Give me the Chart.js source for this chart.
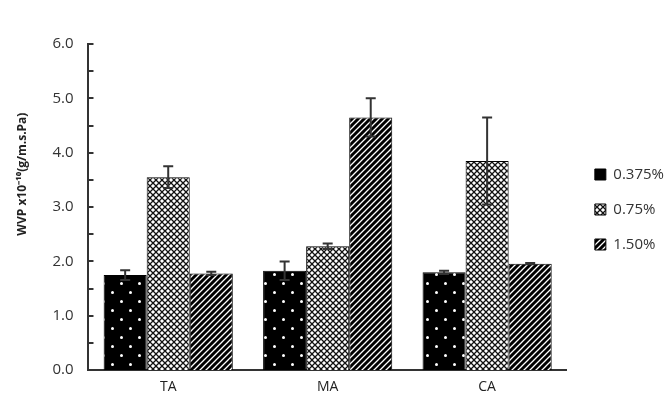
<!DOCTYPE html>
<html>
<head>
<meta charset="utf-8">
<script src="https://cdn.jsdelivr.net/npm/chart.js@4"></script>
<style>
  html, body { margin: 0; padding: 0; background: #fff; }
  #wrap { width: 670px; height: 396px; }
</style>
</head>
<body>
<div id="wrap"><canvas id="graph" width="670" height="396"></canvas></div>
<script>
var categories = ['TA', 'MA', 'CA']
var seriesNames = ['0.375%', '0.75%', '1.50%']
var wvp0375 = [1.75, 1.83, 1.80]
var wvp075 = [3.55, 2.28, 3.85]
var wvp150 = [1.78, 4.65, 1.96]
var err0375 = [0.09, 0.17, 0.03]
var err075 = [0.20, 0.05, 0.80]
var err150 = [0.03, 0.35, 0.01]

function makeTile(size, draw) {
    var c = document.createElement('canvas')
    c.width = size; c.height = size
    var g = c.getContext('2d')
    draw(g, size)
    return document.getElementById('graph').getContext('2d').createPattern(c, 'repeat')
}

// black with white dots
var dots = makeTile(18, function (g, s) {
    g.fillStyle = '#000'; g.fillRect(0, 0, s, s)
    g.fillStyle = '#fff'
    g.beginPath(); g.arc(4.5, 4.5, 1.5, 0, Math.PI * 2); g.fill()
    g.beginPath(); g.arc(13.5, 13.5, 1.5, 0, Math.PI * 2); g.fill()
})
// white lattice
var lattice = makeTile(6, function (g, s) {
    g.fillStyle = '#fff'; g.fillRect(0, 0, s, s)
    g.strokeStyle = '#111'; g.lineWidth = 1.3
    g.beginPath()
    g.moveTo(-1, -1); g.lineTo(s + 1, s + 1)
    g.moveTo(s + 1, -1); g.lineTo(-1, s + 1)
    g.stroke()
})
// black with white diagonal stripes
var stripes = makeTile(6, function (g, s) {
    g.fillStyle = '#000'; g.fillRect(0, 0, s, s)
    g.strokeStyle = '#fff'; g.lineWidth = 1.3
    g.beginPath()
    g.moveTo(0, s); g.lineTo(s, 0)
    g.moveTo(-s, s); g.lineTo(s, -s)
    g.moveTo(0, 2 * s); g.lineTo(2 * s, 0)
    g.stroke()
})

var errors = [err0375, err075, err150]

var errorBars = {
    id: 'errorBars',
    afterDatasetsDraw: function (chart) {
        var c = chart.ctx
        var y = chart.scales.y
        c.save()
        c.strokeStyle = '#333'
        c.lineWidth = 2
        chart.data.datasets.forEach(function (ds, i) {
            var meta = chart.getDatasetMeta(i)
            meta.data.forEach(function (bar, j) {
                var v = ds.data[j], e = errors[i][j]
                var top = y.getPixelForValue(v + e)
                var bot = y.getPixelForValue(v - e)
                c.beginPath()
                c.moveTo(bar.x, top); c.lineTo(bar.x, bot)
                c.moveTo(bar.x - 5, top); c.lineTo(bar.x + 5, top)
                c.moveTo(bar.x - 5, bot); c.lineTo(bar.x + 5, bot)
                c.stroke()
            })
        })
        c.restore()
    }
}

var innerTicks = {
    id: 'innerTicks',
    afterDraw: function (chart) {
        var c = chart.ctx
        var y = chart.scales.y
        var left = chart.chartArea.left
        c.save()
        c.strokeStyle = '#333'
        c.lineWidth = 2
        for (var v = 0; v <= 6; v += 0.5) {
            var p = Math.round(y.getPixelForValue(v))
            c.beginPath(); c.moveTo(left, p); c.lineTo(left + 5, p); c.stroke()
        }
        c.restore()
    }
}

// nudge legend up and right a bit, like the original
var legendShift = {
    id: 'legendShift',
    afterLayout: function (chart) {
        var l = chart.legend
        l.top -= 14; l.bottom -= 14
        l.left += 8; l.right += 8
    }
}

var myChart = new Chart(document.getElementById('graph').getContext('2d'), {
    type: 'bar',
    data: {
        labels: categories,
        datasets: [
            { label: seriesNames[0], data: wvp0375, backgroundColor: dots },
            { label: seriesNames[1], data: wvp075, backgroundColor: lattice },
            { label: seriesNames[2], data: wvp150, backgroundColor: stripes }
        ]
    },
    options: {
        responsive: false,
        animation: false,
        datasets: {
            bar: {
                borderColor: '#000',
                borderWidth: 1,
                categoryPercentage: 0.81,
                barPercentage: 1
            }
        },
        layout: {
            padding: { top: 44, right: 4, bottom: -7, left: 15 }
        },
        plugins: {
            legend: {
                position: 'right',
                labels: {
                    boxWidth: 11,
                    boxHeight: 11,
                    padding: 20,
                    color: '#333',
                    font: { family: 'Open Sans', size: 15 }
                }
            },
            tooltip: { enabled: false }
        },
        scales: {
            x: {
                grid: { display: false, drawTicks: false },
                border: { color: '#333', width: 2 },
                ticks: {
                    color: '#222',
                    padding: 8,
                    font: { family: 'Open Sans', size: 14 }
                }
            },
            y: {
                min: 0,
                max: 6,
                grid: { display: false, drawTicks: false },
                border: { color: '#333', width: 2 },
                ticks: {
                    stepSize: 1,
                    padding: 15,
                    color: '#333',
                    font: { family: 'Open Sans', size: 15 },
                    callback: function (v) { return v.toFixed(1) }
                },
                title: {
                    display: true,
                    text: '\u2002\u2002\u2002\u2002\u2002\u2002\u2002\u2002\u2002\u2002\u2002WVP x10\u207B\u00B9\u2070(g/m.s.Pa)',
                    color: '#222',
                    font: { family: 'Open Sans', size: 12, weight: 'bold' },
                    padding: { top: 0, bottom: 8 }
                }
            }
        }
    },
    plugins: [errorBars, innerTicks, legendShift]
})
</script>
</body>
</html>
